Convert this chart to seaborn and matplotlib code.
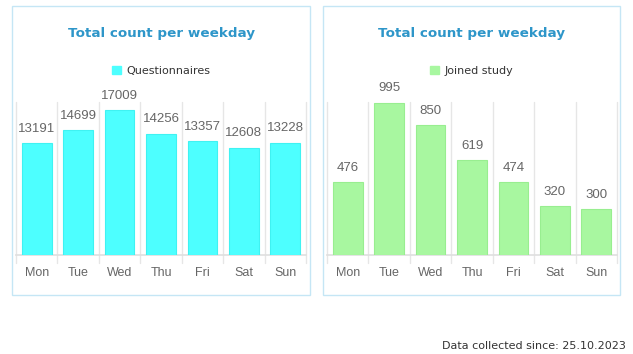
import matplotlib
matplotlib.use('Agg')
import matplotlib.pyplot as plt
from matplotlib.patches import Rectangle, Patch
import seaborn as sns
import pandas as pd

days = ['Mon', 'Tue', 'Wed', 'Thu', 'Fri', 'Sat', 'Sun']
questionnaires = [13191, 14699, 17009, 14256, 13357, 12608, 13228]
joined = [476, 995, 850, 619, 474, 320, 300]

sns.set_theme(style='white')
plt.rcParams['font.family'] = ['DejaVu Sans']

W, H = 633, 354
fig = plt.figure(figsize=(W / 100, H / 100), dpi=100)


def px_box(x0, y0, x1, y1):
    return [x0 / W, 1 - y1 / H, (x1 - x0) / W, (y1 - y0) / H]


panels = [
    dict(box=(12, 6, 310, 295), ax=(16, 102, 306, 255), vals=questionnaires,
         ymax=18000, color='#4dffff', edge='#3ff2f2', label='Questionnaires'),
    dict(box=(323, 6, 620, 295), ax=(327, 102, 617, 255), vals=joined,
         ymax=1000, color='#a8f7a0', edge='#98ee90', label='Joined study'),
]

for p in panels:
    bx0, by0, bx1, by1 = p['box']
    fig.patches.append(Rectangle((bx0 / W, 1 - by1 / H), (bx1 - bx0) / W, (by1 - by0) / H,
                                 transform=fig.transFigure, fill=False,
                                 edgecolor='#c5e6f5', linewidth=1))
    cx = (bx0 + bx1) / 2 / W
    fig.text(cx, 1 - 34 / H, 'Total count per weekday', ha='center', va='center',
             fontsize=9.7, fontweight='bold', color='#2e96c9')

    ax = fig.add_axes(px_box(*p['ax']))
    df = pd.DataFrame({'day': days, 'value': p['vals']})
    sns.barplot(data=df, x='day', y='value', color=p['color'], saturation=1,
                width=0.72, ax=ax, zorder=3, edgecolor=p['edge'], linewidth=0.8)
    ax.set_ylim(0, p['ymax'])
    ax.set_xlim(-0.5, len(days) - 0.5)
    ax.set_xlabel('')
    ax.set_ylabel('')
    ax.set_yticks([])
    for s in ['top', 'right', 'left']:
        ax.spines[s].set_visible(False)
    ax.spines['bottom'].set_color('#e0e0e0')
    for i in range(len(days) + 1):
        ax.axvline(i - 0.5, ymin=-8 / 153, ymax=1, color='#e6e6e6', lw=1,
                   clip_on=False, zorder=1)
    ax.tick_params(axis='x', length=0, pad=9, labelsize=9, labelcolor='#666666')
    for lab in ax.get_xticklabels():
        lab.set_fontfamily('Liberation Sans')
    for i, v in enumerate(p['vals']):
        ax.annotate(str(v), (i, v), xytext=(0, 6), textcoords='offset points',
                    ha='center', va='bottom', fontsize=9.5, color='#666666',
                    family='Liberation Sans')
    ax.legend(handles=[Patch(color=p['color'], label=p['label'])],
              loc='center', bbox_to_anchor=(0.5, 1 + 31 / 153), frameon=False,
              fontsize=8, handlelength=0.8, handleheight=0.8, handletextpad=0.5,
              labelcolor='#333333')

fig.text(626 / W, 1 - 346 / H, 'Data collected since: 25.10.2023', ha='right',
         va='center', fontsize=8, color='#333333')

fig.savefig('out.png', dpi=100)
